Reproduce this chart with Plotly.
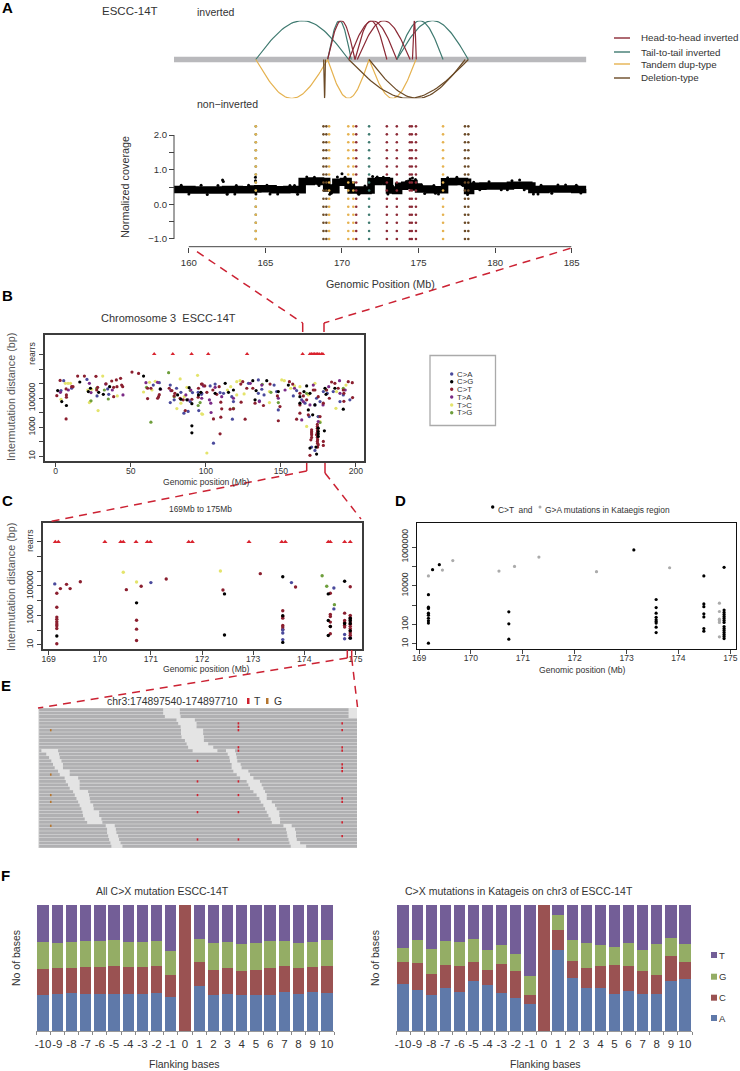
import numpy as np
import plotly.graph_objects as go

W, H = 740, 1071
FONT = "Liberation Sans"

# ---------- Panel A data ----------
arcs_t2t = [(164.37, 170.44), (169.06, 170.6), (173.58, 176.6), (173.58, 178.25)]
arcs_h2h = [(169.06, 170.85), (170.44, 173.58), (170.85, 172.93), (171.0, 174.45), (174.6, 174.85)]
arcs_dup = [(164.37, 169.06), (169.06, 171.77), (171.77, 174.83)]
arcs_del = [(168.8, 168.92), (170.44, 178.25), (171.77, 178.05)]

cov_pos = [159.03,160.2,161.5,162.4,163.3,164.2,164.5,165.5,166.4,167.2,167.4,168.0,168.6,169.0,169.4,169.6,170.1,170.4,170.6,171.2,171.7,
           171.9,172.4,172.9,173.1,173.5,173.7,174.1,174.5,174.7,175.0,175.7,176.5,176.7,177.3,178.0,178.2,178.4,179.2,180.0,181.0,182.2,182.4,183.3,184.4,185.2,185.96]
cov_val = [0.43,0.41,0.41,0.43,0.42,0.44,0.45,0.42,0.43,0.42,0.66,0.67,0.66,0.47,0.42,0.64,0.66,0.55,0.41,0.40,0.41,
           0.66,0.68,0.66,0.41,0.40,0.52,0.55,0.60,0.50,0.44,0.42,0.42,0.65,0.66,0.64,0.40,0.52,0.53,0.53,0.55,0.53,0.43,0.44,0.44,0.43,0.44]
cov_rough_x = [159.5,160.8,161.2,162.2,162.25,162.5,163.1,163.9,164.35,164.35,164.38,165.1,165.8,166.6,167.1,167.7,168.2,168.5,168.9,169.2,169.3,169.7,170.0,170.2,
               170.7,171.1,171.5,172.0,172.3,172.7,173.0,173.3,173.8,174.2,174.45,174.6,174.8,175.4,176.0,176.3,176.9,177.5,177.9,178.2,178.6,179.6,180.4,181.1,181.6,181.9,182.5,183.0,183.7,184.6,185.6,
               160.0,161.9,163.0,165.3,166.9,175.2,176.1,179.0,180.8,182.8,184.1,185.3]
cov_rough_y = [0.55,0.55,0.28,0.70,0.66,0.29,0.54,0.55,0.78,0.68,0.30,0.55,0.30,0.54,0.29,0.79,0.78,0.54,0.60,0.29,0.32,0.79,0.88,0.78,
               0.55,0.29,0.53,0.80,0.79,0.78,0.30,0.53,0.42,0.66,0.73,0.76,0.72,0.31,0.54,0.30,0.77,0.78,0.54,0.28,0.64,0.65,0.42,0.68,0.70,0.42,0.30,0.55,0.32,0.56,0.33,
               0.30,0.54,0.30,0.30,0.54,0.55,0.32,0.42,0.42,0.30,0.56,0.55]
break_pos = [164.37,164.37,168.79,168.98,169.16,170.41,170.74,170.93,171.77,172.93,173.58,174.43,174.56,174.83,176.6,178.03,178.25]
break_col = ["#3f7a70","#e5b250","#6b4a26","#6b4a26","#e5b250","#e5b250","#e5b250","#8b2a36","#3f7a70","#8b2a36","#8b2a36","#8b2a36","#8b2a36","#8b2a36","#e5b250","#6b4a26","#6b4a26"]
break_y = [-1.0,-0.77,-0.53,-0.30,-0.07,0.16,0.40,0.63,0.86,1.09,1.33,1.56,1.79,2.02,2.25]

# ---------- Panel B data (Mb, log10 bp) ----------
b_ca = [(5.3,6.21),(3.5,5.53),(20.8,6.3),(10.6,5.69),(27.5,5.16),(34.6,5.64),(35.3,5.27),(65,5.91),(69,6.07),(76.3,5.91),(80.5,5.69),(83.4,5.41),(78.9,4.89),(76.3,4.7),(85.4,3.97),(88.2,4.09),(95.3,4.15),(94.9,5.41),(91.1,5.39),(97.1,5.27),(89.6,4.77),
        (97.3,5.34),(102.9,5.85),(106.2,5.98),(109.5,5.39),(111.8,5.34),(117.3,5.11),(118.4,4.77),(117.7,3.56),(105.1,1.91),(128.4,6.03),(135,6.26),(137.3,5.62),(138.8,5.23),(135,5.34),(135.7,4.82),(145.5,5.91),(148.3,4.2),(147.2,5.46),(158.3,5.16),(160.5,5.53),(163.9,4.89),(166.1,4.66),(168.9,3.74),(174.9,3.74),(173.8,5),(178.3,5.46),(180.9,5.34),(184.9,5.46),(189.4,4.77),(191.6,5.23),(196,4.89),(172.7,4.54),(176.1,4.77),(170.5,1.64),(172.7,1.41)]
b_cg = [(1.3,5.53),(4,4.77),(7.1,4.5),(16,6.12),(23.1,5.69),(21.7,5.46),(28.6,5.41),(35.9,5.8),(31.7,5.27),(58.5,6.53),(69.6,5.64),(81.2,5.23),(88.9,5.73),(83.4,4.93),(87.4,4.89),(90.7,4.63),(90.7,3.1),(90.7,2.62),(95.1,5.23),(96.7,5.41),
        (106.2,5.34),(112.9,6.03),(115.1,5.41),(118.4,5.57),(131.3,6.21),(140.6,6.21),(148.3,5.46),(133.5,5.53),(132.8,4.89),(155,5.91),(167.2,5.85),(162.7,4.66),(162.7,5.11),(165.4,5.46),(169.4,5.34),(168.3,4.2),(171.2,3.86),(179.4,5.69),(180.1,5.27),(191.6,4.25),(179,2.76),(174.9,2.94),(174.9,2.71),(174.9,2.55),(174.9,2.37),(169.4,1.57),(173.4,1.64),(173.8,1.16),(172.7,4.54),(186,5.69)]
b_ct = [(2.9,6.23),(14.6,6.53),(19.1,6.53),(26.8,6.51),(6.9,5.64),(10.6,5.8),(11.5,5.8),(7.1,5.23),(7.1,5.07),(0.7,5.18),(6.9,3.58),(27.9,5.75),(27.3,5.57),(33.5,6.0),(37.3,6.19),(40.4,6.26),(43.2,6.37),(38.6,5.75),(40.8,5.8),(43.9,5.91),(44.6,5.8),(38.6,5.11),(50.8,6.8),(55.2,6.71),(61.2,5.69),(69,5.25),(68.5,5.11),(67.9,5.0),(61.2,4.98),(63.4,5.69),(75.6,5.69),(77.4,5.53),(79.4,5.34),(78.9,5.16),(82.9,5.0),(84.9,4.89),(86.3,4.15),(95.1,5.69),(97.1,5.98),(94.9,5.07),(90.7,4.93),
        (97.6,5.98),(100.7,5.41),(99.3,5.85),(104.7,5.57),(108.9,5.8),(107.3,5.27),(110,4.73),(110.6,4.27),(105.1,3.58),(110,3.7),(109.5,2.55),(126.2,3.56),(118.4,4.27),(116.2,4.25),(123.5,4.73),(124.6,6.14),(123.3,5.98),(127.3,5.69),(131.3,5.69),(132.8,4.66),(138.4,4.5),(142.8,5.98),(147.7,5.16),(149.4,4.43),(148.3,3.45),(155.7,6.14),(157.9,5.98),(162.7,5.34),(165,5.16),(167.2,4.89),(171.6,5.57),(174.9,5.11),(178.3,4.66),(182.3,5),(183.8,6.12),(186,6.03),(192,5.34),(192,4.79),(194.9,6.14),(197.6,6.07),(197.8,5.05),(191.6,5.57),(160.5,3.56),(162.7,3.97),(170.5,2.83),(170.5,2.7),(170.5,2.6),(170.5,2.49),(170.5,2.3),(170,2.14),(174.3,3.2),(174.3,3.05),(174.3,2.94),(174.5,2.8),(174.3,2.65),(174.5,2.49),(174.3,2.3),(174.5,2.15),(174.3,2.03),(174.5,1.9),(174.9,1.8),(174.5,1.64),(178.3,2.03),(178.3,1.75),(169.4,1.07),(173.8,2.49),(162.7,4.54),(168.3,3.86),(176.1,3.74),(172.7,5.57),(180.5,5.57),(188.2,5.69)]
b_ta = [(3.1,5.41),(8.4,5.57),(22.4,6.03),(23.5,5.39),(33.3,5.98),(37.7,5.57),(44.8,5.23),(60.1,6.07),(67.8,6.1),(69.8,5.62),(76.7,5.53),(86.7,5.23),(88.2,4.89),(90,5.57),(98.4,5.85),
        (97.3,5),(103.3,4.66),(106.2,5.75),(110.6,5.11),(118.4,5),(129.6,6.03),(135.7,4.77),(137.3,5.91),(148.3,5),(152.8,5.57),(159.1,5.69),(165,4.77),(169.4,4.54),(171.6,5.91),(178.1,4.54),(181.9,5.8),(189.1,6.21),(192.9,5.57),(189.4,5.34),(103.5,4.02),(163.9,3.51),(174.9,3.4),(102.4,4.89)]
b_tc = [(6.4,6.03),(8.2,6.03),(9.8,6.03),(31.3,6.53),(21.3,5.57),(23.9,5.62),(22.4,4.7),(23.1,4.79),(3.5,4.93),(28.2,4.15),(41,5.16),(58.5,5.43),(62.5,6.1),(66.3,6.17),(64.1,5.57),(82.9,6.33),(94.5,6.58),(80.7,4.29),(97.8,3.9),(85.6,5.11),(83.4,4.66),(87.4,5.75),
        (97.3,3.93),(100.7,1.23),(114.4,5.57),(120.6,6.14),(122.8,6.21),(120.6,5.23),(125.5,5.3),(142.4,5.46),(142.4,4.7),(150.6,6.26),(152.3,6.21),(159.1,5.85),(172.7,6.03),(167.2,3.06),(176.1,3.4),(186.7,4.31),(187.1,5.46),(193.4,5.91),(162.7,5.8),(168.3,5.23),(116.6,5.8),(156.6,5.69)]
b_tg = [(23.5,4.82),(27.3,5.69),(32.4,5.57),(35,4.95),(75.2,6.76),(60.5,5.75),(63.4,3.35),(78.9,5.11),(89.6,5.53),(94.9,4.5),(96.2,4.7),
        (118.4,4.31),(137.6,5.96),(143.4,5.41),(148.3,4.7),(174.9,3.74),(176.1,3.33),(180.1,5.57),(191.6,5.69),(167.2,5.34)]
b_rearr = [65.6,78,90.5,101.6,127.5,164.5,169.4,170.5,171.5,172.5,173.5,174.5,175.5,177,178]

# ---------- Panel C data ----------
c_ct = [(169.16,4.5),(169.16,3.55),(169.16,2.88),(169.16,2.74),(169.16,2.56),(169.16,2.42),(169.16,2.29),(169.16,2.11),(169.16,1.07),(169.23,4.82),(169.35,5.11),(169.42,4.82),(169.62,5.29),(170.52,4.75),(170.72,2.67),(170.72,2.06),(170.72,1.29),(170.81,4.98),(171.3,5.47),(172.41,4.73),(173.14,5.84),(173.58,3.31),(173.58,2.92),(173.58,2.81),(173.58,2.31),(173.58,2.2),(173.58,2.06),(173.83,4.93),(174.51,4.5),(174.51,3.06),(174.51,2.92),(174.51,2.54),(174.51,2.24),(174.51,1.75),(174.79,3.15),(174.79,2.65),(174.79,2.51),(174.79,2.33),(174.79,2.2),(174.9,4.95),(174.9,3.0),(174.9,2.85),(174.9,2.7),(174.9,2.55),(174.9,2.4),(174.9,2.25),(174.9,2.1),(174.9,1.95),(174.9,1.8),(174.9,1.65),(174.9,1.5)]
c_cg = [(169.16,1.59),(170.72,3.85),(172.44,1.66),(172.44,4.46),(173.58,5.63),(173.58,2.97),(173.58,1.16),(174.47,4.46),(174.47,2.65),(174.47,1.63),(174.51,2.24),(174.79,5.32),(174.9,2.8),(174.9,2.65),(174.9,2.45),(174.9,1.95),(174.9,1.45),(174.79,2.45)]
c_ca = [(169.12,5.14),(171,5.23),(173.75,5.23),(174.58,4.86),(174.58,3.44),(173.58,2.0),(173.58,1.8),(173.58,1.35),(174.79,1.7),(174.79,1.41),(174.9,1.45)]
c_tc = [(170.46,5.93),(170.72,5.27),(172.36,6.02)]
c_tg = [(174.35,5.7),(174.44,4.98),(174.59,3.73)]
c_rearr = [169.13,169.19,170.1,170.41,170.46,170.71,170.93,170.99,171.74,171.81,172.92,173.56,173.63,174.47,174.51,174.79,174.9]

# ---------- Panel D data ----------
d_ct = [(169.18,1.03),(169.18,2.07),(169.18,2.19),(169.18,2.32),(169.18,2.48),(169.18,2.58),(169.18,2.82),(169.18,2.89),(169.18,3.54),(169.26,4.83),(169.39,5.09),(170.73,2.65),(170.73,2.03),(170.73,1.24),(173.14,5.85),(173.57,3.29),(173.57,2.87),(173.57,2.58),(173.57,2.37),(173.57,2.24),(173.57,2.15),(173.57,2.07),(173.57,1.86),(173.57,1.58),(174.49,4.51),(174.49,3.06),(174.49,2.92),(174.49,2.55),(174.49,2.39),(174.49,1.79),(174.49,1.65),(174.88,4.95),(174.88,2.74),(174.88,2.62),(174.88,2.51),(174.88,2.41),(174.88,2.31),(174.88,2.2),(174.88,2.1),(174.88,1.89),(174.88,1.79),(174.88,1.69),(174.88,1.58),(174.88,1.48),(174.88,1.38),(174.88,1.27)]
d_ga = [(169.18,4.51),(169.45,4.81),(169.65,5.3),(170.54,4.76),(170.84,5.0),(171.31,5.48),(172.42,4.73),(173.83,4.93),(174.79,3.1),(174.79,2.67),(174.79,2.27),(174.79,2.19),(174.79,2.1),(174.79,1.36)]

# ---------- Panel E data (bp offset in window, read rows) ----------
gap1_rows = list(range(0, 13))
gap1_start = [66.7,66.7,67.6,73.8,74.7,76,76.2,76.2,76.5,78.3,79.2,80,82.4]
gap1_end = [75.6,75.6,76,83.6,84.5,84.5,88,88,88.4,88.4,90.7,93.4,95.6]
gap0_rows = [0, 1, 2]
gap0_start = [165.5,165.5,165.5]
gap0_end = [170,170,170]
gap2_rows = list(range(12, 34))
gap2_start = [1.8,4.4,5.9,7.1,8,8.9,10.7,11.6,14.2,14.8,16,16.9,18.7,19.6,20.5,21.4,22.2,23.1,23.7,24,24.9,26.2]
gap2_end = [10.7,11.2,11.6,12.5,13.3,13.3,16.9,16.9,21.4,22.2,22.2,22.2,26.7,27.2,27.6,27.9,29.4,29.7,32.6,32.6,33.8,34.3]
gap3_rows = list(range(12, 34))
gap3_start = [100.2,101.1,102,102.3,103.2,103.2,104.1,105.9,107.7,111.2,112.1,113,114.8,116.5,118,118.7,120.1,121,121.9,122.8,124,124.6]
gap3_end = [105,105.5,105.9,106.2,108,108.5,112.1,113,114.8,118.3,119.2,120.1,121,121.9,121.9,124.6,126.3,127.2,128.6,128.6,129,129]
gap4_rows = list(range(34, 41))
gap4_start = [36.1,36.8,36.8,37.4,37.9,38.6,39.1]
gap4_end = [40.9,41.5,41.8,42.7,43.2,44,45]
gap5_rows = list(range(34, 41))
gap5_start = [130.8,132.2,132.6,132.9,133.5,134,134.7]
gap5_end = [135.2,137,137.5,137.5,137.9,139.7,142.9]
mut_t_162 = [4,6,11,12,16,17,18,26,27,33,37]
mut_t_107 = [4,5,6,11,12,21,25,30,38]
mut_t_85 = [15,21,25,30,38]
mut_g_7 = [6,19,25,27,34]

# ---------- Panel F data ----------
flank = ["-10","-9","-8","-7","-6","-5","-4","-3","-2","-1","0","1","2","3","4","5","6","7","8","9","10"]
fl_a = [28.8,29.4,30.2,29.6,29.6,29.6,29.6,29.6,29.9,27.2,0,35.7,28.6,29.4,28.6,28.6,28.6,30.7,29.6,30.7,30.2]
fl_c = [20.4,20.9,20.1,21.2,20.9,22.2,21.2,20.9,22,16.9,100,19,20.1,20.4,19.3,19.6,21.2,20.6,20.6,20.1,21.7]
fl_g = [21.4,19.6,20.6,20.6,20.9,20.6,19.6,19.8,19.6,19.3,0,18.3,21.4,21.2,21.2,21.7,21.7,20.1,19.8,20.1,20.1]
fl_t = [29.4,30.1,29.1,28.6,28.6,27.6,29.6,29.7,28.5,36.6,0,27,29.9,29,30.9,30.1,28.5,28.6,30,29.1,28]
fr_a = [37.3,32.8,28.6,34.4,31.2,39.7,36.5,30.2,26.2,21.7,0,64.3,42.3,34.4,34.4,29.6,31.7,29.6,29.6,39.7,41.3]
fr_c = [17.7,21.2,16.9,18,20.4,15.3,11.9,23.3,21.2,6.9,100,16.1,13.5,15.6,17.2,22.8,19.8,18,15.1,19.8,13.8]
fr_g = [10.8,18,19.6,18.8,19.3,17.7,15.9,14.8,13.5,15.3,0,11.6,16.1,19.8,16.7,14.3,18.3,16.7,24.6,14.3,14.3]
fr_t = [34.2,28,34.9,28.8,29.1,27.3,35.7,31.7,39.1,56.1,0,8,28.1,30.2,31.7,33.3,30.2,35.7,30.7,26.2,30.6]

# ---------- styles ----------
COL = dict(ca="#4a4a9c", cg="#000000", ct="#8b1f2f", ta="#7a2a86", tc="#e4e46c", tg="#6e9e3c")
RED, GRN, YEL, BRN = "#8b2a36", "#3f7a70", "#e5b250", "#6b4a26"
BAR = dict(A="#5f79a9", C="#9a5252", G="#94ad65", T="#735e97")
TEXT = "#333333"

def hd(l, r):
    return [l / W, r / W]
def vd(t, b):
    return [1 - b / H, 1 - t / H]
def PX(x): return x / W
def PY(y): return 1 - y / H

fig = go.Figure()

def arc_trace(pairs, color, sign):
    xs, ys = [], []
    for a, b in pairs:
        t = np.linspace(0, 1, 50)
        xs += list(a + (b - a) * t) + [None]
        ys += list(sign * np.sin(np.pi * t)) + [None]
    fig.add_trace(go.Scatter(x=xs, y=ys, mode="lines", line=dict(color=color, width=1.2),
                             xaxis="x", yaxis="y", cliponaxis=False))

fig.add_trace(go.Scatter(x=[159.03, 185.96], y=[0, 0], mode="lines", line=dict(color="#b9b9bc", width=5.5), xaxis="x", yaxis="y", cliponaxis=False))
arc_trace(arcs_t2t, GRN, 1)
arc_trace(arcs_h2h, RED, 1)
arc_trace(arcs_dup, YEL, -1)
arc_trace(arcs_del, BRN, -1)

fig.add_trace(go.Scatter(x=cov_pos, y=cov_val, mode="lines", line=dict(color="#000", width=7.5, shape="hv"), xaxis="x2", yaxis="y2", cliponaxis=False))
fig.add_trace(go.Scatter(x=cov_rough_x, y=cov_rough_y, mode="markers", marker=dict(color="#000", size=3), xaxis="x2", yaxis="y2", cliponaxis=False))
for p, c in zip(break_pos, break_col):
    fig.add_trace(go.Scatter(x=[p] * len(break_y), y=break_y, mode="markers", marker=dict(color=c, size=2.6), xaxis="x2", yaxis="y2", cliponaxis=False))

def pts(data, color, ax, size=3.6):
    fig.add_trace(go.Scatter(x=[d[0] for d in data], y=[d[1] for d in data], mode="markers",
                             marker=dict(color=color, size=size), xaxis="x" + ax, yaxis="y" + ax))

for data, key in [(b_tc, "tc"), (b_tg, "tg"), (b_ca, "ca"), (b_ta, "ta"), (b_ct, "ct"), (b_cg, "cg")]:
    pts(data, COL[key], "3", 3.2)
fig.add_trace(go.Scatter(x=b_rearr, y=[8.05] * len(b_rearr), mode="markers",
                         marker=dict(symbol="triangle-up", color="#d9232e", size=4), xaxis="x3", yaxis="y3"))
for data, key in [(c_tc, "tc"), (c_tg, "tg"), (c_ct, "ct"), (c_ca, "ca"), (c_cg, "cg")]:
    pts(data, COL[key], "4", 3.4)
fig.add_trace(go.Scatter(x=c_rearr, y=[8.0] * len(c_rearr), mode="markers",
                         marker=dict(symbol="triangle-up", color="#d9232e", size=4.5), xaxis="x4", yaxis="y4"))
pts(d_ga, "#ababab", "5", 3.2)
pts(d_ct, "#000000", "5", 3.2)

# Panel E reads: grey read lines with the gaps cut out of every row
n_rows = 41
row_gaps = {r: [] for r in range(n_rows)}
for rows, st, en in [(gap0_rows, gap0_start, gap0_end), (gap1_rows, gap1_start, gap1_end), (gap2_rows, gap2_start, gap2_end),
                     (gap3_rows, gap3_start, gap3_end), (gap4_rows, gap4_start, gap4_end), (gap5_rows, gap5_start, gap5_end)]:
    for r, s, e in zip(rows, st, en):
        row_gaps[r].append((s, e))
rx, ry = [], []
for r in range(n_rows):
    cur = 0.6
    for s, e in sorted(row_gaps[r]):
        rx += [cur, s, None]
        ry += [-r, -r, None]
        cur = e
    if cur < 170:
        rx += [cur, 170, None]
        ry += [-r, -r, None]
fig.add_trace(go.Scatter(x=rx, y=ry, mode="lines", line=dict(color="#b0b0b2", width=2.9), xaxis="x6", yaxis="y6", connectgaps=False))
for col, rows, c in [(162.1, mut_t_162, "#d0202e"), (106.8, mut_t_107, "#d0202e"), (85.0, mut_t_85, "#d0202e"), (6.8, mut_g_7, "#b5752e")]:
    fig.add_trace(go.Scatter(x=[col] * len(rows), y=[-r for r in rows], mode="markers",
                             marker=dict(symbol="line-ns-open", color=c, size=1.6, line=dict(color=c, width=1.6)), xaxis="x6", yaxis="y6"))

for ax, vals in [("7", (fl_a, fl_c, fl_g, fl_t)), ("8", (fr_a, fr_c, fr_g, fr_t))]:
    for key, v in zip("ACGT", vals):
        fig.add_trace(go.Bar(x=flank, y=v, marker=dict(color=BAR[key], line=dict(width=0)), xaxis="x" + ax, yaxis="y" + ax))

ann = []
def T(x, y, s, size=10, anchor="left", angle=0, color=TEXT, bold=False):
    if anchor == "left":
        x -= 2
    ann.append(dict(x=PX(x), y=PY(y), xref="paper", yref="paper", text=("<b>%s</b>" % s) if bold else s, showarrow=False,
                    xanchor=anchor, yanchor="middle", textangle=angle, align="left",
                    font=dict(family=FONT, size=size, color=color)))

for letter, x, y in [("A", 2, 8), ("B", 2, 295), ("C", 2, 500), ("D", 395, 500), ("E", 1, 686), ("F", 1, 875)]:
    T(x, y, letter, 15, bold=True, color="#000")
T(102, 11, "ESCC-14T", 11.5)
T(197, 12, "inverted", 10.5)
T(197, 104, "non\u2212inverted", 10.5)
legend_a = [("Head-to-head inverted", RED, 38), ("Tail-to-tail inverted", GRN, 52), ("Tandem dup-type", YEL, 64), ("Deletion-type", BRN, 78)]
for s, c, y in legend_a:
    T(641, y, s, 9.8)
T(125, 187, "Normalized coverage", 10.8, "center", -90)
T(381, 284, "Genomic Position (Mb)", 10.7, "center")
T(101, 318, "Chromosome 3  ESCC-14T", 11)
T(11, 397, "Intermutation distance (bp)", 10.8, "center", -90, "#555")
T(207, 482, "Genomic position (Mb)", 8.6, "center")
T(200.7, 509, "169Mb to 175Mb", 8.4, "center")
T(11, 587, "Intermutation distance (bp)", 10.8, "center", -90, "#555")
T(207, 669, "Genomic position (Mb)", 8.6, "center")
T(497.5, 509.5, "C&gt;T  and", 8.4)
T(545, 509.5, "G&gt;A mutations in Kataegis region", 8.4)
T(582, 670, "Genomic position (Mb)", 8.6, "center")
for s, y in zip(["C>A", "C>G", "C>T", "T>A", "T>C", "T>G"], [374, 381.7, 389.3, 397, 405, 412.7]):
    T(456.5, y, s.replace(">", "&gt;"), 7.8)
T(107, 701, "chr3:174897540-174897710", 10.4)
T(254, 701, "T", 10.4)
T(274, 701, "G", 10.4)
T(96, 891, "All C&gt;X mutation ESCC-14T", 10.5)
T(405, 891, "C&gt;X mutations in Katageis on chr3 of ESCC-14T", 10.5)
T(16, 958, "No of bases", 10.5, "center", -90)
T(375, 958, "No of bases", 10.5, "center", -90)
T(184, 1064, "Flanking bases", 10.5, "center")
T(545.7, 1064, "Flanking bases", 10.5, "center")
for s, y in zip("TGCA", [955, 976.7, 997.7, 1018]):
    T(719, y, s, 9.5)

shapes = []
def L(x0, y0, x1, y1, color, width=1.4, dash=None):
    shapes.append(dict(type="line", xref="paper", yref="paper", x0=PX(x0), y0=PY(y0), x1=PX(x1), y1=PY(y1),
                       line=dict(color=color, width=width, dash=dash)))
def SQ(x0, y0, x1, y1, fill, line=None, lw=0):
    shapes.append(dict(type="rect", xref="paper", yref="paper", x0=PX(x0), y0=PY(y0), x1=PX(x1), y1=PY(y1),
                       fillcolor=fill, line=dict(color=line or fill, width=lw), layer="above"))

for s, c, y in legend_a:
    L(614, y, 630, y, c, 1.4)
L(174, 135, 174, 239, "#444", 1)
L(188.8, 246.7, 571.3, 246.7, "#444", 1)
CON = "#cc2233"
D = "8px,6px"
L(197, 251.7, 302.7, 323, CON, 1.5, D); L(302.7, 323, 302.7, 332, CON, 1.5)
L(570.5, 248.3, 324, 323, CON, 1.5, D); L(324, 323, 324, 332, CON, 1.5)
L(306.7, 463, 306.7, 471, CON, 1.5); L(306.7, 471, 50, 521.5, CON, 1.5, D)
L(325, 463, 325, 473, CON, 1.5); L(325, 473, 361, 519, CON, 1.5, D)
L(347.3, 650, 347.3, 658, CON, 1.5); L(347.3, 658, 38, 708, CON, 1.5, D)
L(351.7, 650, 351.7, 658, CON, 1.5); L(351.7, 658, 357.5, 707, CON, 1.5, D)
SQ(430, 355.5, 495.5, 425.5, "rgba(0,0,0,0)", "#aaaaaa", 1.3)
legend_b_y = [374, 381.7, 389.3, 397, 405, 412.7]
for key, y in zip(["ca", "cg", "ct", "ta", "tc", "tg"], legend_b_y):
    shapes.append(dict(type="circle", xref="paper", yref="paper", x0=PX(450), y0=PY(y - 1.7), x1=PX(453.4), y1=PY(y + 1.7),
                       fillcolor=COL[key], line=dict(width=0)))
shapes.append(dict(type="circle", xref="paper", yref="paper", x0=PX(491), y0=PY(505.3), x1=PX(494.4), y1=PY(508.7), fillcolor="#000", line=dict(width=0)))
shapes.append(dict(type="circle", xref="paper", yref="paper", x0=PX(538.5), y0=PY(505.5), x1=PX(541.5), y1=PY(508.5), fillcolor="#ababab", line=dict(width=0)))
SQ(247, 698, 249.5, 704, "#d0202e")
SQ(266, 698, 268.5, 704, "#b5752e")
for key, y in zip("TGCA", [955, 976.7, 997.7, 1018]):
    SQ(711, y - 3, 717, y + 3, BAR[key])

tick_f = dict(family=FONT, size=8.6, color=TEXT)
hidden = dict(visible=False, fixedrange=True)
frame = dict(showline=True, mirror=True, linecolor="#3c3c3c", linewidth=1.5, ticks="outside", ticklen=4, tickwidth=0.9,
             tickcolor="#444", showgrid=False, zeroline=False, tickfont=tick_f)
xframe = dict(frame, ticklabelstandoff=-3)
y_ticks = [1, 2, 3, 4, 5, 6, 7, 8]
y_text = ["10", "", "1000", "", "100000", "", "", "rearrs"]
fram_d = dict(frame, linecolor="#111", linewidth=1)
xfram_d = dict(fram_d, ticklabelstandoff=-3)

layout = dict(
    template="none",
    width=W, height=H, margin=dict(l=0, r=0, t=0, b=0, autoexpand=False), paper_bgcolor="#fff", plot_bgcolor="rgba(0,0,0,0)",
    showlegend=False, barmode="stack", bargap=0.2, font=dict(family=FONT), annotations=ann, shapes=shapes,
    xaxis=dict(hidden, domain=hd(174, 586.4), range=[159.03, 185.96]),
    yaxis=dict(hidden, domain=vd(20.7, 98.3), range=[-1, 1]),
    xaxis2=dict(domain=hd(174, 586.4), range=[159.03, 185.96], anchor="free", position=PY(246.7), tickvals=[160, 165, 170, 175, 180, 185],
                showgrid=False, zeroline=False, showline=False, ticks="outside", ticklen=5, tickcolor="#444", ticklabelstandoff=2,
                tickfont=dict(family=FONT, size=9.6, color=TEXT)),
    yaxis2=dict(domain=vd(122.9, 245.9), range=[-1.2, 2.35], anchor="free", position=PX(174), tickvals=[-1, -0.5, 0, 0.5, 1, 1.5, 2],
                ticktext=["\u22121.0", "", "0.0", "", "1.0", "", "2.0"], showgrid=False, zeroline=False, showline=False,
                ticks="outside", ticklen=5, tickcolor="#444", tickfont=dict(family=FONT, size=9.6, color=TEXT)),
    xaxis3=dict(xframe, domain=hd(44.5, 364), range=[-7.5, 205.4], anchor="y3", tickvals=[0, 50, 100, 150, 200]),
    yaxis3=dict(frame, domain=vd(334.5, 461), range=[0.68, 9.39], anchor="x3", tickvals=y_ticks, ticktext=y_text, tickangle=-90),
    xaxis4=dict(xframe, domain=hd(42.5, 361.5), range=[168.88, 175.12], anchor="y4", tickvals=[169, 170, 171, 172, 173, 174, 175]),
    yaxis4=dict(frame, domain=vd(522.5, 649), range=[0.71, 9.32], anchor="x4", tickvals=y_ticks, ticktext=y_text, tickangle=-90),
    xaxis5=dict(xfram_d, domain=hd(416.5, 735.5), range=[168.95, 175.1], anchor="y5", tickvals=[169, 170, 171, 172, 173, 174, 175]),
    yaxis5=dict(fram_d, domain=vd(522.5, 649), range=[0.73, 7.27], anchor="x5", tickvals=[1, 2, 3, 4, 5, 6],
                ticktext=["10", "100", "", "10000", "", "1000000"], tickangle=-90),
    xaxis6=dict(hidden, domain=hd(38, 357), range=[0, 170]),
    yaxis6=dict(hidden, domain=vd(708, 848), range=[-40.5, 0.5]),
)
for ax, l, r in [("7", 36, 334), ("8", 396, 692)]:
    layout["xaxis" + ax] = dict(domain=hd(l, r), anchor="y" + ax, type="category", tickson="boundaries", ticks="outside", ticklen=3,
                                tickcolor="#888", showline=True, linecolor="#999", linewidth=1, showgrid=False, categoryorder="array",
                                categoryarray=flank, tickfont=dict(family=FONT, size=11.5, color=TEXT), tickangle=0, dtick=1, ticklabelstandoff=2)
    layout["yaxis" + ax] = dict(domain=vd(905, 1031), anchor="x" + ax, range=[0, 100], visible=False)
fig.update_layout(**layout)
# light background of the read pile-up in panel E
fig.add_shape(type="rect", xref="paper", yref="paper", x0=PX(38), x1=PX(357), y0=PY(708), y1=PY(848),
              fillcolor="#e4e4e4", line=dict(width=0), layer="below")

fig.write_html("out.html", config=dict(displayModeBar=False), post_script="document.body.style.margin='0';")
